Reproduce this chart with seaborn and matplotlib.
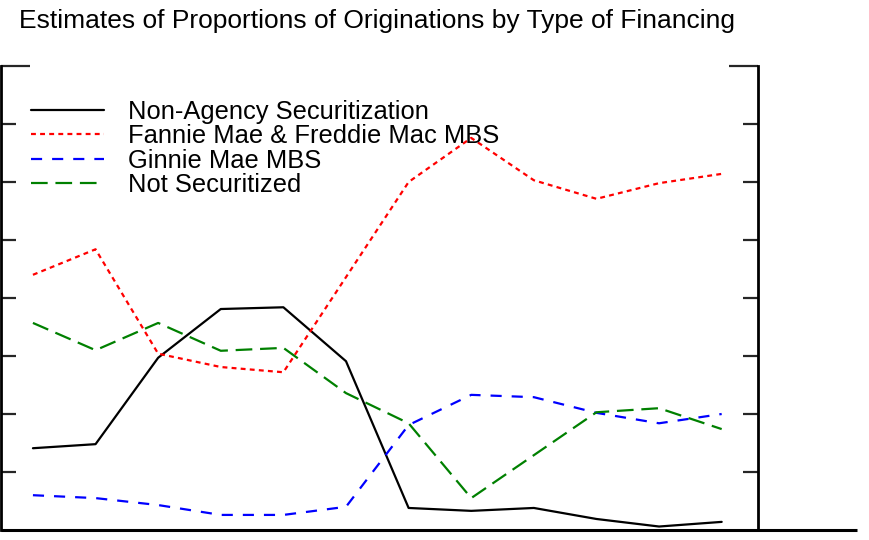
import matplotlib
matplotlib.use("Agg")
import matplotlib.pyplot as plt
import seaborn as sns
import pandas as pd
import numpy as np

# periods (no labels shown on the axis)
periods = list(range(12))

non_agency = [14.1, 14.8, 29.7, 38.1, 38.4, 29.1, 3.8, 3.3, 3.8, 1.9, 0.6, 1.4]
fannie_freddie = [44.0, 48.4, 30.4, 28.1, 27.2, 43.6, 60.0, 67.6, 60.3, 57.1, 59.8, 61.4]
ginnie = [6.0, 5.5, 4.3, 2.6, 2.6, 4.0, 18.1, 23.3, 22.9, 20.2, 18.4, 20.0]
not_securitized = [35.7, 31.0, 35.7, 30.9, 31.4, 23.6, 18.4, 5.5, 12.9, 20.3, 21.0, 17.4]

labels = ["Non-Agency Securitization", "Fannie Mae & Freddie Mac MBS",
          "Ginnie Mae MBS", "Not Securitized"]
colors = ["black", "red", "blue", "green"]
styles = ["-", (0, (2.2, 1.9)), (0, (5, 4.5)), (0, (7.5, 3.5))]

sns.set_style("white")
plt.rcParams['font.family'] = ['Liberation Sans', 'DejaVu Sans']
plt.rcParams['text.color'] = 'black'

W, H = 869, 540
fig = plt.figure(figsize=(W / 100, H / 100), dpi=100)
ax = fig.add_axes([1 / W, (H - 530) / H, 757 / W, 464 / H])

for vals, lab, col, ls in zip([non_agency, fannie_freddie, ginnie, not_securitized],
                              labels, colors, styles):
    sns.lineplot(x=periods, y=vals, ax=ax, color=col, linestyle=ls,
                 linewidth=1.6, label=lab)

ax.set_xlim(-0.51, 11.58)
ax.set_ylim(0, 80)
ax.set_xticks([])
ax.set_yticks([80])
ax.set_yticks(np.arange(10, 80, 10), minor=True)
ax.tick_params(axis='y', which='major', direction='in', length=21, width=1.6,
               left=True, right=True, labelleft=False, labelright=False)
ax.tick_params(axis='y', which='minor', direction='in', length=10.5, width=1.6,
               left=True, right=True)
for side in ['left', 'right']:
    ax.spines[side].set_linewidth(2)
    ax.spines[side].set_color('black')
ax.spines['top'].set_visible(False)
ax.spines['bottom'].set_visible(False)
ax.plot([0, 856 / 757], [0, 0], transform=ax.transAxes, color='black',
        linewidth=2.2, clip_on=False, solid_capstyle='butt')

ax.legend(loc='upper left', bbox_to_anchor=(31 / W, 1 - 100 / H),
          bbox_transform=fig.transFigure, frameon=False, fontsize=18.4,
          borderpad=0, borderaxespad=0, handlelength=2.85, handletextpad=0.94,
          labelspacing=0.015, labelcolor='black')

fig.text(19 / W, 1 - 21 / H, "Estimates of Proportions of Originations by Type of Financing",
         fontsize=19, ha='left', va='center', color='black')

fig.savefig("out.png", dpi=100)
